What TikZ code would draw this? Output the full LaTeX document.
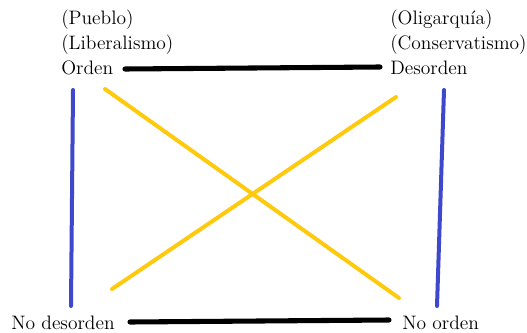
\documentclass[tikz,border=0pt]{standalone}
\definecolor{myblue}{RGB}{63,72,204}
\definecolor{myyellow}{RGB}{255,201,14}
\begin{document}
\begin{tikzpicture}[x=0.75pt,y=-0.75pt,
  lbl/.style={anchor=base west,inner sep=0pt,font=\fontsize{14.6}{17}\selectfont},
  blackline/.style={draw=black,line width=3.8pt,line cap=round},
  blueline/.style={draw=myblue,line width=3pt,line cap=round},
  yellowline/.style={draw=myyellow,line width=3pt,line cap=round}]
\useasboundingbox (0,0) rectangle (527,332);
\node[lbl] (pueblo) at (61,24) {(Pueblo)};
\node[lbl] (liberal) at (61,49) {(Liberalismo)};
\node[lbl] (orden) at (61,74) {Orden};
\node[lbl] (olig) at (390,24) {(Oligarquía)};
\node[lbl] (cons) at (390,49) {(Conservatismo)};
\node[lbl] (desorden) at (390,74) {Desorden};
\node[lbl] (nodes) at (11,329) {No desorden};
\node[lbl] (noorden) at (402,329) {No orden};
% connector end points
\coordinate (tl) at (125,69);
\coordinate (tr) at (380,67);
\coordinate (bl) at (130,322);
\coordinate (br) at (389,320);
\coordinate (lbt) at (73,90);
\coordinate (lbb) at (71,306);
\coordinate (rbt) at (444,90);
\coordinate (rbb) at (437,306);
\coordinate (y1a) at (105,89);
\coordinate (y1b) at (399,298);
\coordinate (y2a) at (396,97);
\coordinate (y2b) at (112,289);
\draw[blackline] (tl) -- (tr);
\draw[blackline] (bl) -- (br);
\draw[blueline] (lbt) -- (lbb);
\draw[blueline] (rbt) -- (rbb);
\draw[yellowline] (y1a) -- (y1b);
\draw[yellowline] (y2a) -- (y2b);
\end{tikzpicture}
\end{document}
